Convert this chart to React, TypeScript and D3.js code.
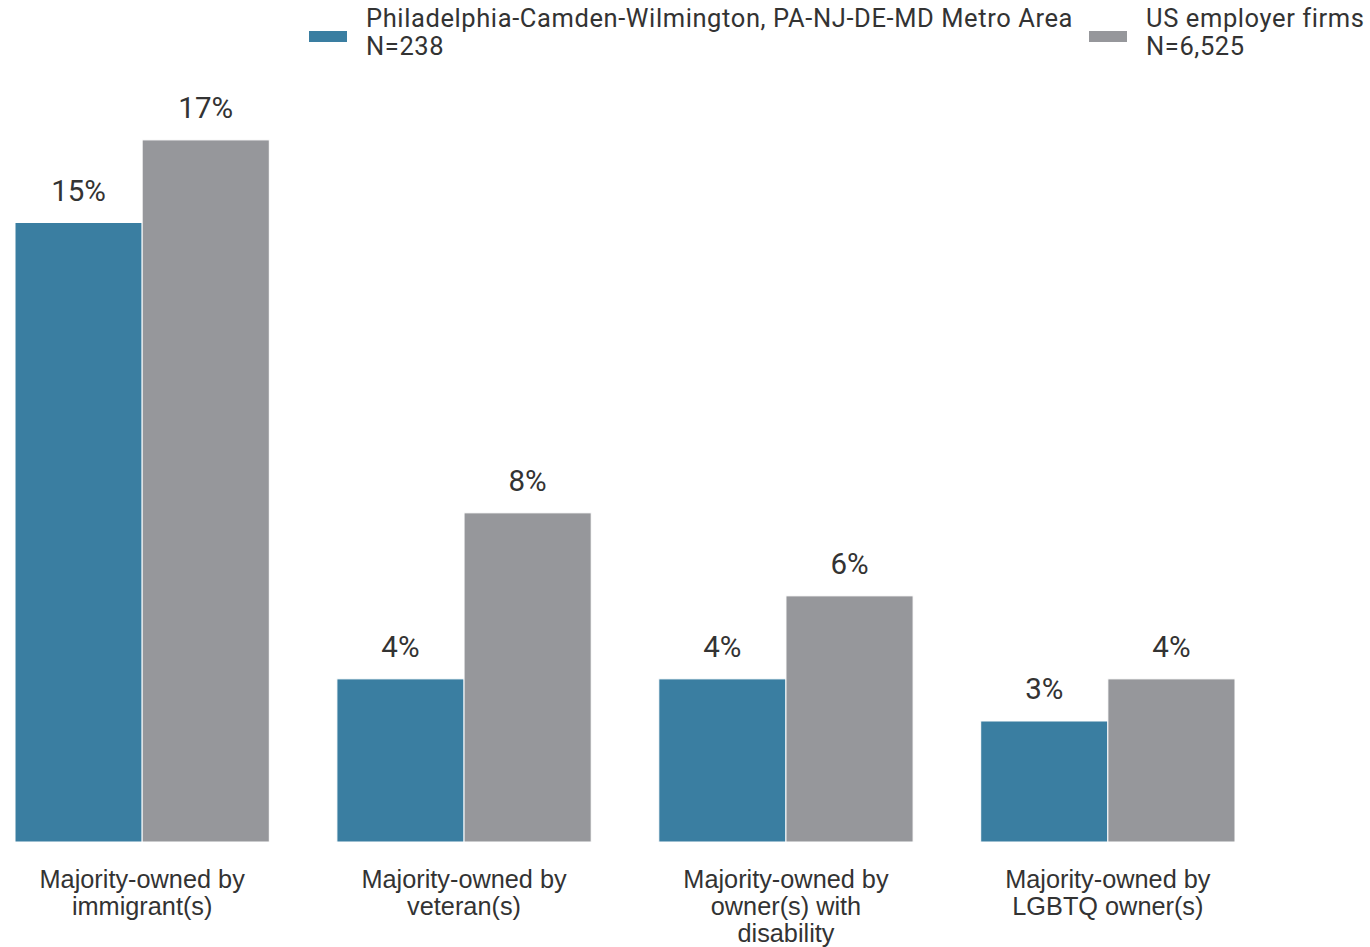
import React from "react";
import * as d3 from "d3";

const categories: string[][] = [
  ["Majority-owned by", "immigrant(s)"],
  ["Majority-owned by", "veteran(s)"],
  ["Majority-owned by", "owner(s) with", "disability"],
  ["Majority-owned by", "LGBTQ owner(s)"],
];
const seriesNames: string[][] = [
  ["Philadelphia-Camden-Wilmington, PA-NJ-DE-MD Metro Area", "N=238"],
  ["US employer firms", "N=6,525"],
];
const metroValues: number[] = [15.0, 3.95, 3.95, 2.93];
const usValues: number[] = [17.0, 7.97, 5.96, 3.95];
const colors: string[] = ["#3a7ea1", "#96979b"];

const W = 1370;
const H = 947;

export default function App() {
  const baseY = 842;
  const ppu = 41.3;
  const yMax = 17.5;
  const y = d3.scaleLinear().domain([0, yMax]).range([baseY, baseY - yMax * ppu]);
  const idx = categories.map((_, i) => String(i));
  const x0 = d3.scaleBand<string>().domain(idx).range([15, 1235]).paddingInner(0.21).paddingOuter(0);
  const x1 = d3.scaleBand<string>().domain(["0", "1"]).range([0, x0.bandwidth()]).padding(0);
  const series = [metroValues, usValues];
  const textColor = "#333333";
  const legendX = [309, 1089];

  return (
    <svg width={W} height={H} style={{ display: "block", position: "absolute", left: 0, top: 0 }}>
      <rect width={W} height={H} fill="#ffffff" />
      {seriesNames.map((lines, s) => (
        <g key={s}>
          <rect x={legendX[s]} y={31} width={38} height={11} fill={colors[s]} />
          <text
            x={legendX[s] + 57}
            y={27}
            fontFamily="Roboto"
            fontSize={25.5}
            letterSpacing={0.6}
            fill={textColor}
          >
            {lines.map((l, j) => (
              <tspan key={j} x={legendX[s] + 57} dy={j === 0 ? 0 : 28}>{l}</tspan>
            ))}
          </text>
        </g>
      ))}
      {idx.map((k, i) => (
        <g key={k} transform={`translate(${x0(k)},0)`}>
          {series.map((vals, s) => {
            const v = vals[i];
            const bx = x1(String(s))!;
            return (
              <g key={s}>
                <rect
                  x={bx}
                  y={y(v)}
                  width={x1.bandwidth()}
                  height={baseY - y(v)}
                  fill={colors[s]}
                  stroke="#ffffff"
                  strokeWidth={1}
                />
                <text
                  x={bx + x1.bandwidth() / 2}
                  y={y(v) - 22}
                  textAnchor="middle"
                  fontFamily="Roboto"
                  fontSize={29.5}
                  fill={textColor}
                >
                  {Math.round(v) + "%"}
                </text>
              </g>
            );
          })}
          <text
            x={x0.bandwidth() / 2}
            y={888}
            textAnchor="middle"
            fontFamily="Liberation Sans, Arial"
            fontSize={25.3}
            fill={textColor}
          >
            {categories[i].map((l, j) => (
              <tspan key={j} x={x0.bandwidth() / 2} dy={j === 0 ? 0 : 27}>{l}</tspan>
            ))}
          </text>
        </g>
      ))}
    </svg>
  );
}
